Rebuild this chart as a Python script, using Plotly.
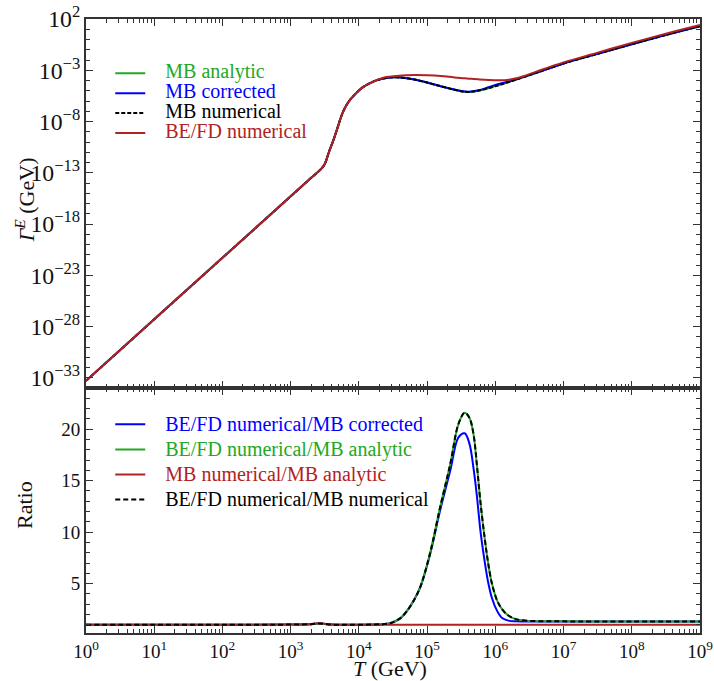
import plotly.graph_objects as go

# ---------------- top panel data ----------------
T_top = [1e0, 1e1, 1e2, 1e3, 2.0e3, 2.82e3, 3.16e3, 3.63e3, 4.27e3, 4.90e3, 5.62e3,
         6.46e3, 7.41e3, 8.91e3, 1.12e4, 1.41e4, 1.82e4, 2.51e4, 3.55e4, 5.01e4,
         7.08e4, 1.0e5, 1.58e5, 2.51e5, 3.55e5, 4.47e5, 5.62e5, 7.94e5, 1.12e6,
         1.58e6, 2.51e6, 3.98e6, 1e7, 3.16e7, 1e8, 3.16e8, 1e9]

gamma_mb_numerical = [5.0e-34, 5.0e-28, 5.0e-22, 5.0e-16, 3.2e-14, 2.5e-13, 7.1e-13,
                      1.0e-11, 1.8e-10, 2.8e-9, 4.5e-8, 3.2e-7, 1.26e-6, 5.0e-6,
                      2.0e-5, 5.0e-5, 1.07e-4, 1.78e-4, 2.04e-4, 1.66e-4, 1.12e-4,
                      6.3e-5, 2.8e-5, 1.26e-5, 7.9e-6, 7.9e-6, 1.0e-5, 1.78e-5,
                      3.5e-5, 7.1e-5, 2.0e-4, 5.6e-4, 4.5e-3, 4.0e-2, 0.35, 2.8, 20.0]

gamma_mb_analytic = [5.0e-34, 5.0e-28, 5.0e-22, 5.0e-16, 3.2e-14, 2.5e-13, 7.1e-13,
                     1.0e-11, 1.8e-10, 2.8e-9, 4.5e-8, 3.2e-7, 1.26e-6, 5.0e-6,
                     2.0e-5, 5.0e-5, 1.07e-4, 1.78e-4, 2.04e-4, 1.66e-4, 1.12e-4,
                     6.3e-5, 2.8e-5, 1.26e-5, 7.9e-6, 7.9e-6, 1.0e-5, 1.78e-5,
                     3.5e-5, 7.1e-5, 2.0e-4, 5.6e-4, 4.5e-3, 4.0e-2, 0.35, 2.8, 20.0]

gamma_mb_corrected = [5.0e-34, 5.0e-28, 5.0e-22, 5.0e-16, 3.2e-14, 2.5e-13, 7.1e-13,
                      1.0e-11, 1.8e-10, 2.8e-9, 4.5e-8, 3.2e-7, 1.26e-6, 5.0e-6,
                      2.0e-5, 5.0e-5, 1.07e-4, 1.78e-4, 2.04e-4, 1.66e-4, 1.12e-4,
                      6.3e-5, 2.8e-5, 1.3e-5, 8.3e-6, 8.4e-6, 1.1e-5, 2.2e-5,
                      4.6e-5, 8.0e-5, 2.05e-4, 5.6e-4, 4.5e-3, 4.0e-2, 0.35, 2.8, 20.0]

gamma_befd_numerical = [5.0e-34, 5.0e-28, 5.0e-22, 5.0e-16, 3.2e-14, 2.5e-13, 7.1e-13,
                        1.0e-11, 1.8e-10, 2.8e-9, 4.5e-8, 3.2e-7, 1.26e-6, 5.0e-6,
                        2.0e-5, 5.0e-5, 1.07e-4, 2.2e-4, 2.8e-4, 3.3e-4, 3.4e-4,
                        3.2e-4, 2.7e-4, 2.0e-4, 1.66e-4, 1.45e-4, 1.29e-4, 1.12e-4,
                        1.05e-4, 1.2e-4, 2.5e-4, 7.4e-4, 5.9e-3, 5.2e-2, 0.47, 3.7, 26.0]

# ---------------- bottom panel data ----------------
T_ratio = [1e0, 1e1, 1e2, 1e3, 2.0e3, 2.63e3, 3.16e3, 3.98e3, 6.31e3, 1e4, 1.58e4,
           2.24e4, 2.88e4, 3.98e4, 5.01e4, 6.31e4, 7.94e4, 1.10e5, 1.55e5, 2.19e5,
           2.88e5, 3.55e5, 4.17e5, 4.79e5, 5.37e5, 6.03e5, 6.92e5, 7.76e5, 8.91e5,
           1.07e6, 1.26e6, 1.55e6, 2.0e6, 2.82e6, 5.01e6, 1e7, 1e8, 1e9]

ratio_befd_mb_analytic = [1.0, 1.0, 1.0, 1.02, 1.06, 1.12, 1.08, 1.02, 1.0, 1.0, 1.02,
                          1.06, 1.15, 1.6, 2.3, 3.3, 4.67, 7.9, 12.4, 16.65, 20.5, 21.6,
                          21.1, 19.5, 16.5, 13.0, 9.6, 7.2, 5.0, 3.3, 2.5, 1.9, 1.55,
                          1.4, 1.34, 1.33, 1.32, 1.32]

ratio_befd_mb_numerical = [1.0, 1.0, 1.0, 1.02, 1.06, 1.12, 1.08, 1.02, 1.0, 1.0, 1.02,
                           1.06, 1.15, 1.6, 2.3, 3.3, 4.67, 7.9, 12.4, 16.65, 20.5, 21.6,
                           21.1, 19.5, 16.5, 13.0, 9.6, 7.2, 5.0, 3.3, 2.5, 1.9, 1.55,
                           1.4, 1.34, 1.33, 1.32, 1.32]

ratio_befd_mb_corrected = [1.0, 1.0, 1.0, 1.02, 1.06, 1.12, 1.08, 1.02, 1.0, 1.0, 1.02,
                           1.06, 1.15, 1.6, 2.3, 3.3, 4.65, 7.8, 12.1, 16.0, 19.2, 19.6,
                           18.6, 16.2, 13.5, 10.2, 7.3, 5.3, 3.6, 2.3, 1.65, 1.4, 1.33,
                           1.32, 1.32, 1.32, 1.32, 1.32]

ratio_mb_numerical_mb_analytic = [1.0, 1.0, 1.0, 1.02, 1.07, 1.15, 1.1, 1.02, 1.0, 1.0, 1.0,
                                  1.0, 1.0, 1.0, 1.0, 1.0, 1.0, 1.0, 1.0, 1.0, 1.0, 1.0,
                                  1.0, 1.0, 1.0, 1.0, 1.0, 1.0, 1.0, 1.0, 1.0, 1.0, 1.0,
                                  1.0, 1.0, 1.0, 1.0, 1.0]

x_tick_values = [1e0, 1e1, 1e2, 1e3, 1e4, 1e5, 1e6, 1e7, 1e8, 1e9]
x_tick_labels = ["10<sup>0</sup>", "10<sup>1</sup>", "10<sup>2</sup>", "10<sup>3</sup>",
                 "10<sup>4</sup>", "10<sup>5</sup>", "10<sup>6</sup>", "10<sup>7</sup>",
                 "10<sup>8</sup>", "10<sup>9</sup>"]

GREEN = "#22a822"
BLUE = "#0000ff"
RED = "#b22222"
BLACK = "#000000"
FONT = "Liberation Serif"
NB = "&nbsp;&nbsp;&nbsp;"


def lbl(text, color):
    return (f"<span style='color:{color};font-family:Liberation Serif;font-size:20px'>"
            f"{NB}{text}</span>")


fig = go.Figure()

# top panel
fig.add_trace(go.Scatter(x=T_top, y=gamma_mb_analytic, mode="lines", line=dict(color=GREEN, width=2, shape="spline"),
                         name=lbl("MB analytic", GREEN), xaxis="x", yaxis="y", legend="legend"))
fig.add_trace(go.Scatter(x=T_top, y=gamma_mb_corrected, mode="lines", line=dict(color=BLUE, width=2, shape="spline"),
                         name=lbl("MB corrected", BLUE), xaxis="x", yaxis="y", legend="legend"))
fig.add_trace(go.Scatter(x=T_top, y=gamma_mb_numerical, mode="lines",
                         line=dict(color=BLACK, width=2, dash="4px,2px", shape="spline"),
                         name=lbl("MB numerical", BLACK), xaxis="x", yaxis="y", legend="legend"))
fig.add_trace(go.Scatter(x=T_top, y=gamma_befd_numerical, mode="lines", line=dict(color=RED, width=2, shape="spline"),
                         name=lbl("BE/FD numerical", RED), xaxis="x", yaxis="y", legend="legend"))

# bottom panel
fig.add_trace(go.Scatter(x=T_ratio, y=ratio_befd_mb_corrected, mode="lines", line=dict(color=BLUE, width=2, shape="spline"),
                         name=lbl("BE/FD numerical/MB corrected", BLUE), xaxis="x2", yaxis="y2", legend="legend2"))
fig.add_trace(go.Scatter(x=T_ratio, y=ratio_befd_mb_analytic, mode="lines", line=dict(color=GREEN, width=2, shape="spline"),
                         name=lbl("BE/FD numerical/MB analytic", GREEN), xaxis="x2", yaxis="y2", legend="legend2"))
fig.add_trace(go.Scatter(x=T_ratio, y=ratio_mb_numerical_mb_analytic, mode="lines", line=dict(color=RED, width=2, shape="spline"),
                         name=lbl("MB numerical/MB analytic", RED), xaxis="x2", yaxis="y2", legend="legend2"))
fig.add_trace(go.Scatter(x=T_ratio, y=ratio_befd_mb_numerical, mode="lines",
                         line=dict(color=BLACK, width=2, dash="5px,3px", shape="spline"),
                         name=lbl("BE/FD numerical/MB numerical", BLACK), xaxis="x2", yaxis="y2", legend="legend2"))

axis_common = dict(showline=True, linecolor="#333333", linewidth=2, mirror="allticks", ticks="inside",
                   ticklen=7, tickwidth=1.2, tickcolor="#333333", showgrid=False, zeroline=False,
                   automargin=False, ticklabeloverflow="allow",
                   tickfont=dict(family=FONT, size=19, color="#111111"))

split = 245 / 614
TITLE_FONT = dict(family=FONT, size=22, color="#111111")

fig.update_layout(
    width=714, height=681,
    margin=dict(l=86, r=14, t=19, b=48),
    paper_bgcolor="white", plot_bgcolor="white",
    font=dict(family=FONT, size=19, color="#111111"),
    showlegend=True,
    xaxis=dict(type="log", range=[0, 9], anchor="y", matches="x2", showticklabels=False,
               tickvals=x_tick_values, ticktext=x_tick_labels,
               minor=dict(ticks="inside", ticklen=4, dtick="D1", tickcolor="#333333", showgrid=False),
               **axis_common),
    yaxis=dict(type="log", range=[-34, 2], domain=[split, 1], anchor="x", tick0=2, dtick=5,
               exponentformat="power",
               minor=dict(ticks="inside", ticklen=4, dtick=1, tickcolor="#333333", showgrid=False),
               **axis_common),
    xaxis2=dict(type="log", range=[0, 9], anchor="y2",
                tickvals=x_tick_values, ticktext=x_tick_labels,
                minor=dict(ticks="inside", ticklen=4, dtick="D1", tickcolor="#333333", showgrid=False),
                **axis_common),
    yaxis2=dict(range=[0.2, 24], domain=[0, split], anchor="x2", tick0=0, dtick=5,
                minor=dict(ticks="inside", ticklen=4, dtick=1, tickcolor="#333333", showgrid=False),
                **axis_common),
    legend=dict(x=0.0395, y=0.936, xanchor="left", yanchor="top", bgcolor="rgba(0,0,0,0)",
                font=dict(family=FONT, size=13), itemwidth=30, tracegroupgap=0),
    legend2=dict(x=0.0395, y=0.3685, xanchor="left", yanchor="top", bgcolor="rgba(0,0,0,0)",
                 font=dict(family=FONT, size=17), itemwidth=30, tracegroupgap=0),
    annotations=[
        dict(text="<i>Γ</i><sup><i>E</i></sup> (GeV)", xref="paper", yref="paper",
             x=-0.0993, y=0.705, xanchor="center", yanchor="middle", textangle=-90,
             showarrow=False, font=TITLE_FONT),
        dict(text="Ratio", xref="paper", yref="paper",
             x=-0.0993, y=0.2085, xanchor="center", yanchor="middle", textangle=-90,
             showarrow=False, font=TITLE_FONT),
        dict(text="<i>T</i> (GeV)", xref="paper", yref="paper",
             x=0.495, y=-0.058, xanchor="center", yanchor="middle",
             showarrow=False, font=TITLE_FONT),
    ],
)

# remove the default 8px page margin so the 714x681 figure fills the window exactly
fig.write_html("out.html", config={"displayModeBar": False},
               post_script="document.body.style.margin='0';")
